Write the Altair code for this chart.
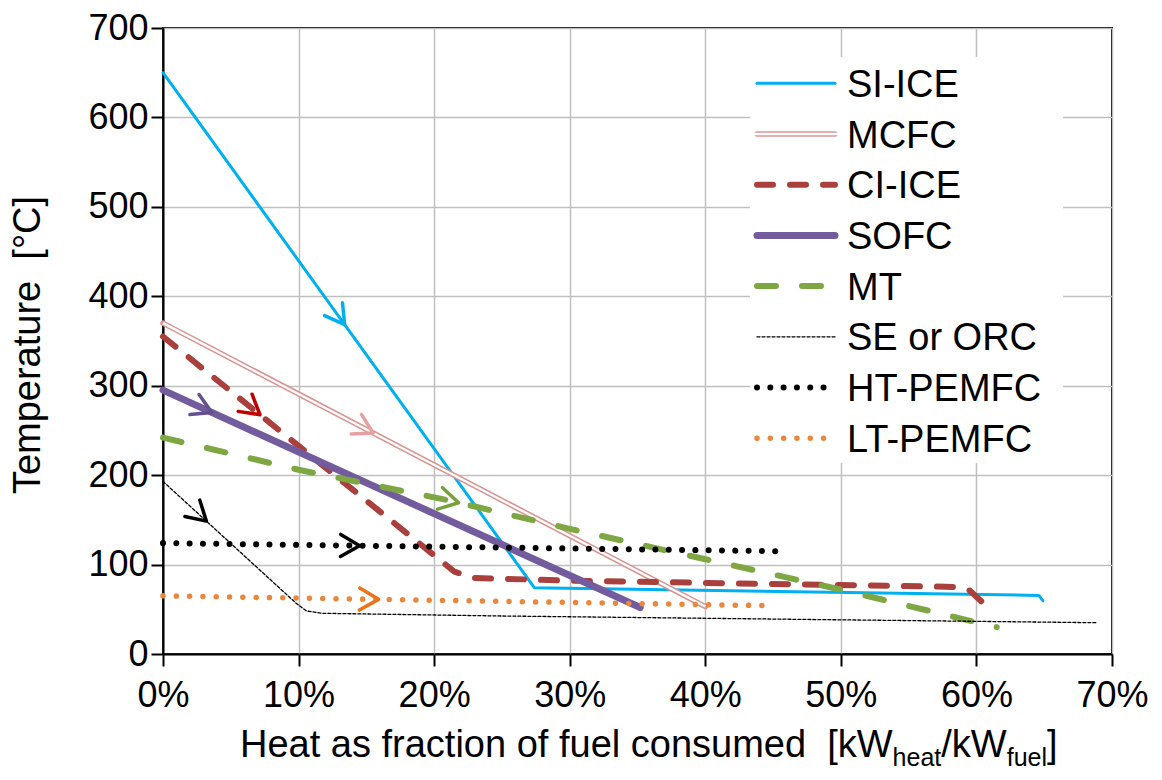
import math
import numpy as np
import pandas as pd
import altair as alt

# Temperature at which heat is available vs. cumulative heat recovered
# (fraction of fuel energy) for each CHP prime mover.
si_ice_x = [0.0, 0.274, 0.646, 0.649]
si_ice_t = [650, 74, 65.5, 59.6]

mcfc_x = [0.0, 0.40]
mcfc_t = [370, 53]

ci_ice_x = [0.0, 0.215, 0.23, 0.30, 0.585, 0.595, 0.61]
ci_ice_t = [355, 92, 85, 82, 75, 71, 50]

sofc_x = [0.0, 0.352]
sofc_t = [295, 52]

mt_x = [0.0, 0.10, 0.21, 0.30, 0.40, 0.50, 0.615]
mt_t = [242, 206, 172, 140, 106, 72, 30]

se_x = [0.0, 0.098, 0.106, 0.118, 0.25, 0.688]
se_t = [193, 57, 48, 45.5, 42.5, 35]

ht_x = [0.0, 0.452]
ht_t = [124, 115]

lt_x = [0.0, 0.448]
lt_t = [65, 54]

# where the direction arrow sits on each curve
arrow_x = {
    "SI-ICE": 0.134, "MCFC": 0.155, "CI-ICE": 0.0715, "SOFC": 0.036,
    "MT": 0.218, "SE or ORC": 0.032, "HT-PEMFC": 0.145, "LT-PEMFC": 0.159,
}

x_ticks = [0.0, 0.1, 0.2, 0.3, 0.4, 0.5, 0.6, 0.7]
t_ticks = [0, 100, 200, 300, 400, 500, 600, 700]

FONT = "Liberation Sans"
NBSP = "\u00a0"
W, H = 949, 626
LEFT, TOP = 163, 28
X_MAX, T_MAX = 0.7, 700
PX_X = W / X_MAX
PX_T = H / T_MAX

series = [
    dict(name="SI-ICE", x=si_ice_x, t=si_ice_t, color="#00B0F0", width=3,
         dash=None, arrow="#00B0F0"),
    dict(name="MCFC", x=mcfc_x, t=mcfc_t, color="#D99694", width=5.5,
         dash=None, double=True, arrow="#E6A0A0"),
    dict(name="CI-ICE", x=ci_ice_x, t=ci_ice_t, color="#A9403D", width=6,
         dash=[16, 17], arrow="#C00000"),
    dict(name="SOFC", x=sofc_x, t=sofc_t, color="#725C9E", width=7,
         dash=None, arrow="#64508F"),
    dict(name="MT", x=mt_x, t=mt_t, color="#7EA743", width=6,
         dash=[19, 26], arrow="#77A23B"),
    dict(name="SE or ORC", x=se_x, t=se_t, color="#000000", width=1.3,
         dash=[3, 2], arrow="#000000"),
    dict(name="HT-PEMFC", x=ht_x, t=ht_t, color="#000000", width=6,
         dash=[0.01, 13.3], arrow="#000000"),
    dict(name="LT-PEMFC", x=lt_x, t=lt_t, color="#E8873D", width=5.5,
         dash=[0.01, 13.3], arrow="#EE7216"),
]

x_axis = alt.Axis(
    values=x_ticks, format=".0%", title=None, grid=True,
    gridColor="#BFBFBF", gridWidth=1.5,
    domainColor="black", domainWidth=2, tickColor="black", tickWidth=2,
    tickSize=12, labelFont=FONT, labelFontSize=36, labelColor="black",
    labelPadding=12, labelFlush=False, labelOverlap=False,
)
t_axis = alt.Axis(
    values=t_ticks, title=None, grid=True,
    gridColor="#BFBFBF", gridWidth=1.5,
    domainColor="black", domainWidth=2, tickColor="black", tickWidth=2,
    tickSize=12, labelFont=FONT, labelFontSize=36, labelColor="black",
    labelPadding=3, labelFlush=False, labelOverlap=False,
)
x_enc = alt.X("x:Q", scale=alt.Scale(domain=[0, X_MAX], nice=False, zero=False), axis=x_axis)
y_enc = alt.Y("t:Q", scale=alt.Scale(domain=[0, T_MAX], nice=False, zero=False), axis=t_axis)

layers = []
for s in series:
    df = pd.DataFrame({"x": s["x"], "t": s["t"]})
    kw = dict(color=s["color"], strokeWidth=s["width"], strokeCap="round",
              strokeJoin="round")
    if s["dash"]:
        kw["strokeDash"] = s["dash"]
    layers.append(alt.Chart(df).mark_line(**kw).encode(x=x_enc, y=y_enc))
    if s.get("double"):
        layers.append(
            alt.Chart(df).mark_line(color="white", strokeWidth=2.3,
                                    strokeCap="butt").encode(x=x_enc, y=y_enc)
        )

# open chevron arrows aligned with the local slope of each curve
arrow_rows = []
for s in series:
    xs, ts = s["x"], s["t"]
    xa = arrow_x[s["name"]]
    ta = float(np.interp(xa, xs, ts))
    i = max(j for j in range(len(xs) - 1) if xs[j] <= xa)
    dx = (xs[i + 1] - xs[i]) * PX_X
    dy = -(ts[i + 1] - ts[i]) * PX_T
    ang = math.degrees(math.atan2(dy, dx)) % 360
    arrow_rows.append({"x": xa, "t": ta, "angle": ang, "col": s["arrow"]})
arrows = pd.DataFrame(arrow_rows)
chevron = "M -1 -0.58 L 0 0 L -1 0.58"
layers.append(
    alt.Chart(arrows).mark_point(
        shape=chevron, filled=False, strokeWidth=3.5, size=1444, opacity=1,
        strokeCap="round", strokeJoin="round",
    ).encode(
        x=x_enc, y=y_enc,
        angle=alt.Angle("angle:Q", scale=None),
        stroke=alt.Stroke("col:N", scale=None),
    )
)

# legend panel inside the plot
one = pd.DataFrame({"k": [0]})
layers.append(
    alt.Chart(one).mark_rect(color="white").encode(
        x=alt.value(750 - LEFT), x2=alt.value(1063 - LEFT),
        y=alt.value(57 - TOP), y2=alt.value(463 - TOP),
    )
)
LEG_Y0, LEG_DY = 83.3, 50.7
for i, s in enumerate(series):
    yy = LEG_Y0 + i * LEG_DY - TOP
    kw = dict(color=s["color"], strokeWidth=s["width"], strokeCap="round")
    if s["dash"]:
        kw["strokeDash"] = s["dash"]
    layers.append(
        alt.Chart(one).mark_rule(**kw).encode(
            x=alt.value(757 - LEFT), x2=alt.value(835 - LEFT), y=alt.value(yy)
        )
    )
    if s.get("double"):
        layers.append(
            alt.Chart(one).mark_rule(color="white", strokeWidth=2.3).encode(
                x=alt.value(752 - LEFT), x2=alt.value(841 - LEFT), y=alt.value(yy)
            )
        )
    layers.append(
        alt.Chart(one).mark_text(
            text=s["name"], font=FONT, fontSize=38, color="black",
            align="left", baseline="alphabetic",
        ).encode(x=alt.value(847 - LEFT), y=alt.value(yy + 13.5))
    )

# axis titles
layers.append(
    alt.Chart(one).mark_text(
        text="Temperature" + NBSP + NBSP + "[°C]", font=FONT, fontSize=38,
        color="black", align="center", baseline="alphabetic", angle=270,
    ).encode(x=alt.value(40 - LEFT), y=alt.value(345 - TOP))
)

ARIAL = {
    "H": .722, "e": .556, "a": .556, "t": .278, " ": .278, NBSP: .278,
    "s": .5, "f": .278, "r": .333, "c": .5, "i": .222, "o": .556, "n": .556,
    "u": .556, "l": .222, "m": .833, "d": .556, "[": .278, "k": .5, "W": .944,
    "h": .556, "/": .278, "]": .278,
}


def text_w(txt, size):
    return sum(ARIAL.get(ch, .556) for ch in txt) * size


MAIN, SUB = 38, 25
BASE = 757
pieces = [
    ("Heat as fraction of fuel consumed" + NBSP + NBSP + "[kW", MAIN, 0),
    ("heat", SUB, 9),
    ("/kW", MAIN, 0),
    ("fuel", SUB, 9),
    ("]", MAIN, 0),
]
xpos = 240.0
for txt, size, drop in pieces:
    layers.append(
        alt.Chart(one).mark_text(
            text=txt, font=FONT, fontSize=size, color="black",
            align="left", baseline="alphabetic",
        ).encode(x=alt.value(xpos - LEFT), y=alt.value(BASE + drop - TOP))
    )
    xpos += text_w(txt, size)

chart = (
    alt.layer(*layers)
    .properties(
        width=W, height=H,
        padding={"left": LEFT, "top": TOP, "right": 1162 - LEFT - W,
                 "bottom": 780 - TOP - H},
        autosize=alt.AutoSizeParams(type="none"),
        background="white",
    )
    .configure_view(stroke="black", strokeWidth=2)
)

chart.save("out.html", embed_options={"renderer": "svg", "actions": False})
